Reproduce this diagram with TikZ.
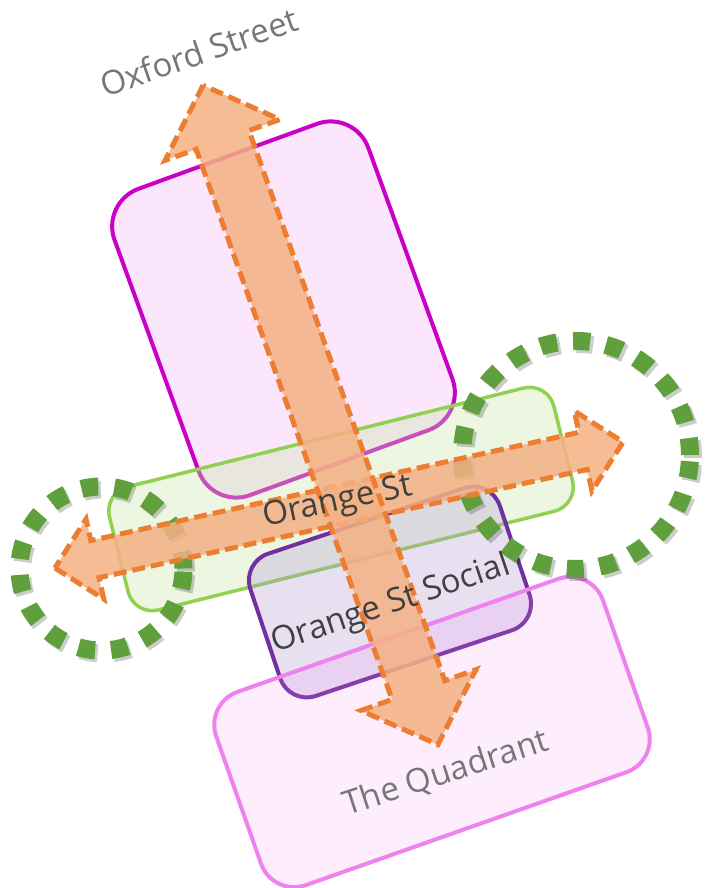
\documentclass[tikz,border=0pt]{standalone}
\usepackage{fontspec}
\setmainfont{Open Sans}
\usepackage{xcolor}
\definecolor{Plum}{HTML}{C800C8}
\definecolor{PlumFill}{HTML}{F08CF0}
\definecolor{Leaf}{HTML}{92D050}
\definecolor{LeafFill}{HTML}{C8E6AA}
\definecolor{Grape}{HTML}{7030A0}
\definecolor{GrapeFill}{HTML}{B496D2}
\definecolor{Orchid}{HTML}{EE82EE}
\definecolor{Peach}{HTML}{F4B183}
\definecolor{Rust}{HTML}{ED7D31}
\definecolor{Moss}{HTML}{5FA03C}
\definecolor{Ink}{HTML}{404040}
\definecolor{Slate}{HTML}{767676}
\usepackage{tikz}
\usetikzlibrary{positioning}

\begin{document}
\begin{tikzpicture}[x=1pt,y=-1pt,
  every node/.style={font=\fontsize{33}{40}\selectfont,inner sep=0pt},
  venue/.style={line width=4pt,minimum width=#1},
  oxbox/.style={venue=270pt,minimum height=326pt,rounded corners=40pt,
    draw=Plum,fill=PlumFill,fill opacity=.22},
  orangebox/.style={venue=458pt,minimum height=127pt,rounded corners=25pt,
    draw=Leaf,fill=LeafFill,fill opacity=.35,line width=3.5pt},
  socialbox/.style={venue=263pt,minimum height=150pt,rounded corners=28pt,
    draw=Grape,fill=GrapeFill,fill opacity=.3},
  quadbox/.style={venue=410pt,minimum height=205pt,rounded corners=35pt,
    draw=Orchid,fill=PlumFill,fill opacity=.16},
  street/.style={draw=Rust,fill=Peach,fill opacity=.85,line width=5pt,
    dash pattern=on 13pt off 6pt},
  loopdots/.style={draw=Moss,line width=18pt,dash pattern=on 17pt off 16pt},
  loopshadow/.style={draw=black,opacity=.2,line width=18pt,dash pattern=on 17pt off 16pt},
  darklabel/.style={text=Ink},
  greylabel/.style={text=Slate}
]
\useasboundingbox (0,0) rectangle (709,888);

\node[oxbox,rotate=20] (oxford) at (283.5,309.5) {};
\node[orangebox,rotate=14] (orange) at (341,499) {};
\node[socialbox,rotate=18.5] (social) at (390,592) {};
\node[quadbox,rotate=19.4] (quadrant) at (432,732) {};

% green loops either side of Orange St
\draw[loopshadow] (104,571.5) circle[radius=82pt];
\draw[loopshadow] (579,458) circle[radius=114pt];
\draw[loopdots] (101.5,568.5) circle[radius=82pt];
\draw[loopdots] (576,455) circle[radius=114pt];

\begin{scope}[shift={(339,505)},rotate=12.5]
  \draw[street] (-291,0) -- (-250,41) -- (-250,19) -- (250,19) -- (250,41) -- (291,0)
    -- (250,-41) -- (250,-19) -- (-250,-19) -- (-250,-41) -- cycle;
\end{scope}
\begin{scope}[shift={(320.5,415)},rotate=-70.4]
  \draw[street] (-350,0) -- (-292,61) -- (-292,28) -- (292,28) -- (292,61) -- (350,0)
    -- (292,-61) -- (292,-28) -- (-292,-28) -- (-292,-61) -- cycle;
\end{scope}

\node[greylabel,rotate=19] (oxfordtext) at (199,52) {Oxford Street};
\node[darklabel,rotate=12] (orangetext) at (338,503) {Orange St};
\node[darklabel,rotate=18.6] (socialtext) at (391,605) {Orange St Social};
\node[greylabel,rotate=18] (quadtext) at (446,773.5) {The Quadrant};
\end{tikzpicture}
\end{document}
